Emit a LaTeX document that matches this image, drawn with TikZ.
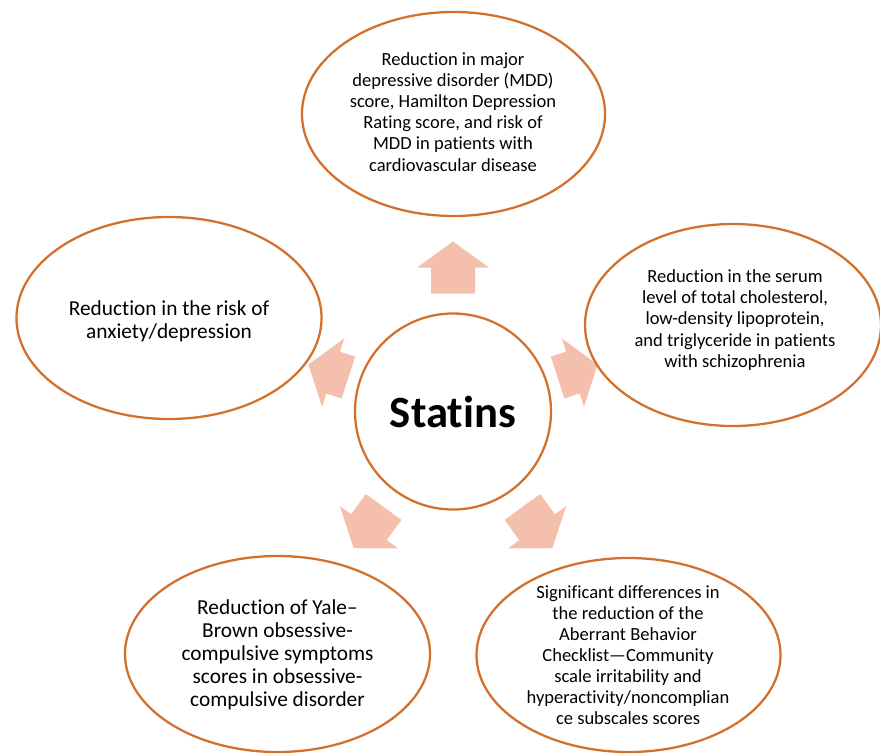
\documentclass[tikz,border=0pt]{standalone}
\usepackage{fontspec}
\setmainfont{Carlito}[Ligatures={TeX,NoCommon}]
\usetikzlibrary{shapes.geometric,calc,backgrounds}
\definecolor{RingOrange}{HTML}{D2702C}
\definecolor{ArrowPeach}{HTML}{F4BFAC}

\begin{document}
\begin{tikzpicture}[x=0.75pt,y=-0.75pt,
    bubble/.style={ellipse,draw=RingOrange,line width=1.7pt,fill=white,inner sep=0pt},
    note/.style={align=center,font=\fontsize{13.9}{15.8}\selectfont},
    bignote/.style={align=center,font=\fontsize{16}{17.3}\selectfont}]
  \useasboundingbox (0,0) rectangle (880,753);
  \node[bubble,circle,minimum size=147pt,font=\fontsize{33.5}{38}\selectfont\bfseries] (statins) at (453,411.5) {Statins};
  \node[bubble,minimum width=227.3pt,minimum height=153pt] (mdd) at (453.5,114) {};
  \node[bubble,minimum width=228.8pt,minimum height=151.5pt] (anxiety) at (169,318) {};
  \node[bubble,minimum width=222pt,minimum height=151.5pt] (lipids) at (733,325) {};
  \node[bubble,minimum width=228.8pt,minimum height=147pt] (ocd) at (277.5,654) {};
  \node[bubble,minimum width=228pt,minimum height=145.5pt] (abc) at (628.5,655) {};
  \node[note] (mddText) at (453,112) {Reduction in major\\depressive disorder (MDD)\\score, Hamilton Depression\\Rating score, and risk of\\MDD in patients with\\cardiovascular disease};
  \node[bignote] (anxietyText) at (169,321) {Reduction in the risk of\\anxiety/depression};
  \node[note] (lipidsText) at (735,320) {Reduction in  the serum\\level of total cholesterol,\\low-density lipoprotein,\\and triglyceride in patients\\with schizophrenia};
  \node[bignote] (ocdText) at (277.5,655) {Reduction of Yale–\\Brown obsessive-\\compulsive symptoms\\scores in obsessive-\\compulsive disorder};
  \node[note] (abcText) at (628,655) {Significant differences in\\the reduction of the\\Aberrant Behavior\\Checklist—Community\\scale irritability and\\hyperactivity/noncomplian\\ce subscales scores};
  \begin{scope}[on background layer]
    \foreach \a/\ra/\rb/\rc in {-90/118/144/170,-18/110/126/152,-162/110/126/152,126/118/143/169,54/118/143/169} {
      \fill[ArrowPeach] ($(statins.center)+(\a:\ra)+(\a+90:22)$) -- ($(statins.center)+(\a:\rb)+(\a+90:22)$)
        -- ($(statins.center)+(\a:\rb)+(\a+90:36)$) -- ($(statins.center)+(\a:\rc)$)
        -- ($(statins.center)+(\a:\rb)+(\a-90:36)$) -- ($(statins.center)+(\a:\rb)+(\a-90:22)$)
        -- ($(statins.center)+(\a:\ra)+(\a-90:22)$) -- cycle;
    }
  \end{scope}
\end{tikzpicture}
\end{document}
